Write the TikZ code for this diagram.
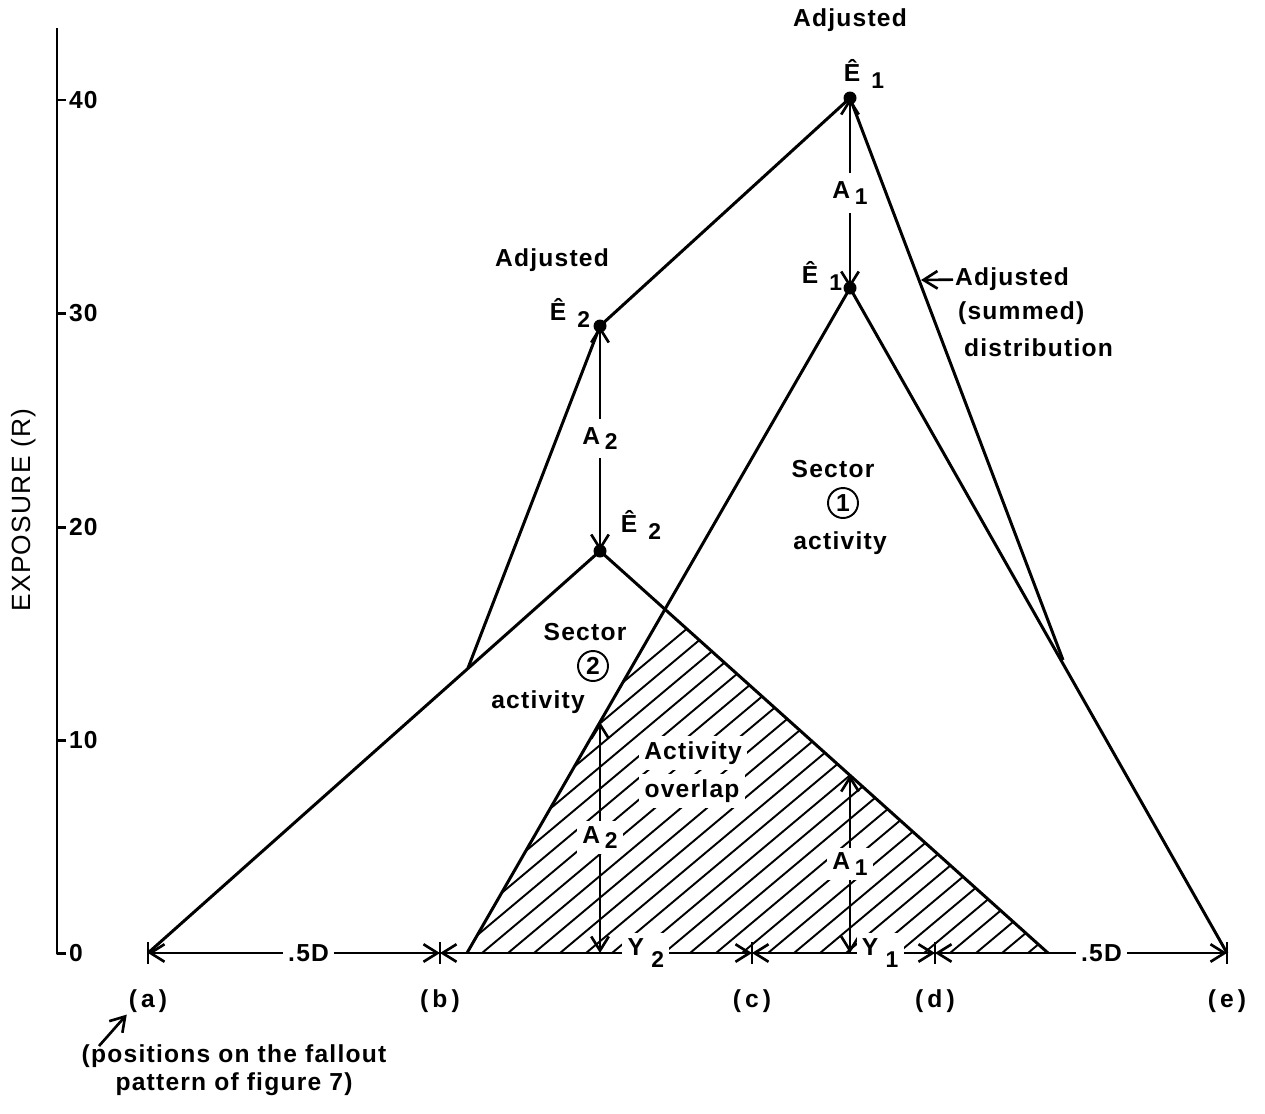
\documentclass[tikz,border=0pt]{standalone}
\usepackage{fontspec}
\setmainfont[LetterSpace=5]{Liberation Sans}
\usetikzlibrary{arrows.meta}

\newcommand{\subsz}{\fontsize{13}{15}\selectfont}
\newcommand{\Ehat}[1]{Ê\hspace{0.45em}\raisebox{-0.6ex}{\subsz #1}}
\newcommand{\Asub}[1]{A\hspace{0.2em}\raisebox{-0.4ex}{\subsz #1}}
\newcommand{\Ysub}[1]{Y\hspace{0.3em}\raisebox{-0.9ex}{\subsz #1}}

\begin{document}
\begin{tikzpicture}[x=0.02cm,y=-0.02cm,>={Straight Barb[length=8pt,width=10pt]},
  curve/.style={line width=1.7pt,line join=round},
  arr/.style={line width=1.5pt},
  dimline/.style={line width=1.5pt,<->},
  hatch/.style={line width=1.1pt},
  lbl/.style={font=\fontsize{14}{16}\selectfont\bfseries,inner sep=1pt},
  gap/.style={lbl,fill=white,inner sep=3pt},
  numc/.style={draw,circle,line width=1.1pt,minimum size=0.6cm,inner sep=0pt,font=\fontsize{14}{17}\selectfont\bfseries}]
  \useasboundingbox (0,0) rectangle (1265,1113);
  % base line points
  \coordinate (a0) at (148,953);
  \coordinate (b0) at (440,953);
  \coordinate (c0) at (752,953);
  \coordinate (d0) at (935,953);
  \coordinate (e0) at (1227,953);
  \coordinate (s1L) at (467,953);
  \coordinate (s2R) at (1048,953);
  % peaks and crossings
  \coordinate (E2) at (600,551);
  \coordinate (E2adj) at (600,326);
  \coordinate (E1) at (850,288);
  \coordinate (E1adj) at (850,98);
  \coordinate (J2) at (468,668);
  \coordinate (J1) at (1063,660);
  \coordinate (ov) at (665,609);
  \coordinate (p2) at (600,722);
  \coordinate (p1) at (850,775);
  % overlap hatching
  \begin{scope}
    \clip (s1L) -- (ov) -- (s2R) -- cycle;
    \foreach \x in {300,326,...,1100} \draw[hatch] (\x,953) -- ++(420,-352);
  \end{scope}
  % axis
  \draw[curve] (57,28) -- (57,953) -- (66,953);
  \foreach \v/\y in {40/100,30/313,20/527,10/740} {
    \draw[curve] (57,\y) -- (66,\y);
    \node[lbl,anchor=west] (t\v) at (67,\y) {\v};
  }
  \node[lbl,anchor=west] (t0) at (67,953) {0};
  \node[rotate=90,font=\fontsize{15}{18}\selectfont] (ylab) at (24,510) {EXPOSURE (R)};
  % distributions
  \draw[curve] (a0) -- (E2) -- (s2R);
  \draw[curve] (s1L) -- (E1) -- (e0);
  \draw[curve] (J2) -- (E2adj) -- (E1adj) -- (J1);
  \foreach \p in {E2,E2adj,E1,E1adj} \fill (\p) circle (6.5);
  % adjustments
  \draw[arr,<->] (E2adj) -- node[gap,inner sep=5pt] {\Asub{2}} (E2);
  \draw[arr,<->] (E1adj) -- node[gap,inner sep=5pt] {\Asub{1}} (E1);
  \draw[arr,<->] (p2) -- node[gap] {\Asub{2}} (p2 |- a0);
  \draw[arr,<->] (p1) -- node[gap] {\Asub{1}} (p1 |- a0);
  % base line
  \draw[dimline] (a0) -- node[gap,pos=.55] {.5D} (b0);
  \draw[dimline] (b0) -- node[gap,pos=.66] {\Ysub{2}} (c0);
  \draw[dimline] (c0) -- node[gap,pos=.7] {\Ysub{1}} (d0);
  \draw[dimline] (d0) -- node[gap,pos=.57] {.5D} (e0);
  \foreach \p/\t in {a0/a,b0/b,c0/c,d0/d,e0/e} {
    \draw[arr] (\p) ++(0,-11) -- ++(0,22);
    \path (\p) ++(0,48) node[lbl] (lab\t) {(\,\t\,)};
  }
  % labels
  \node[lbl] (adj1) at (850,20) {Adjusted};
  \node[lbl] (hat1) at (864,74) {\Ehat{1}};
  \node[lbl] (adj2) at (552,260) {Adjusted};
  \node[lbl] (hat2) at (570,313) {\Ehat{2}};
  \node[lbl] (low1) at (822,276) {\Ehat{1}};
  \node[lbl] (low2) at (641,525) {\Ehat{2}};
  \node[lbl] (sec1) at (833,469) {Sector};
  \node[numc] (n1) at (843,503) {1};
  \node[lbl] (act1) at (840,543) {activity};
  \node[lbl] (sec2) at (585,632) {Sector};
  \node[numc] (n2) at (593,666) {2};
  \node[lbl] (act2) at (538,702) {activity};
  \node[gap] (ovA) at (693,753) {Activity};
  \node[gap] (ovB) at (692,791) {overlap};
  \node[lbl,anchor=west] (sumA) at (953,279) {Adjusted};
  \node[lbl,anchor=west] (sumB) at (956,313) {(summed)};
  \node[lbl,anchor=west] (sumC) at (962,348) {distribution};
  \coordinate (sumtip) at (921,280);
  \draw[arr,->] (sumA) -- (sumtip);
  \node[lbl,align=center] (note) at (234,1070) {(positions on the fallout\\pattern of figure 7)};
  \coordinate (notetail) at (99,1046);
  \draw[arr,->] (notetail) -- (laba.south west);
\end{tikzpicture}
\end{document}
